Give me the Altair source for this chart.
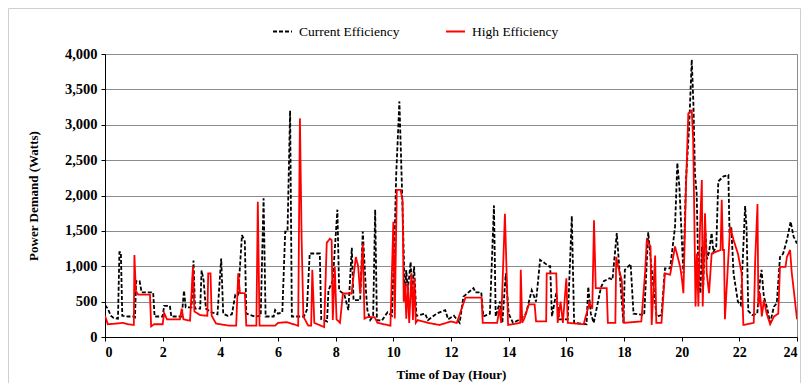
import altair as alt
import pandas as pd

series_names = ["Current Efficiency", "High Efficiency"]
x_ticks = list(range(0, 25, 2))
y_ticks = list(range(0, 4001, 500))

cur_hours = [0.00, 0.10, 0.20, 0.30, 0.45, 0.50, 0.55, 0.60, 0.80, 1.00, 1.04, 1.08, 1.20, 1.27, 1.67, 1.72,
             2.00, 2.05, 2.25, 2.30, 2.66, 2.74, 2.80, 3.00, 3.07, 3.12, 3.30, 3.35, 3.42, 3.50, 3.70, 3.90,
             4.03, 4.10, 4.25, 4.40, 4.52, 4.62, 4.75, 4.85, 4.90, 5.20, 5.40, 5.50, 5.57, 5.85, 5.90, 6.00,
             6.15, 6.25, 6.33, 6.42, 6.48, 6.60, 6.90, 7.00, 7.10, 7.45, 7.50, 7.70, 7.75, 7.90, 8.06, 8.12,
             8.30, 8.44, 8.56, 8.62, 8.85, 8.94, 9.05, 9.10, 9.20, 9.30, 9.37, 9.43, 9.60, 9.80, 9.95, 10.05,
             10.10, 10.21, 10.30, 10.40, 10.45, 10.50, 10.60, 10.65, 10.72, 10.80, 11.10, 11.20, 11.50, 11.80,
             11.90, 12.10, 12.30, 12.43, 12.78, 12.85, 13.05, 13.12, 13.35, 13.49, 13.55, 13.70, 13.78, 13.90,
             14.00, 14.15, 14.40, 14.60, 14.80, 14.95, 15.09, 15.40, 15.44, 15.50, 15.65, 15.75, 16.05, 16.19,
             16.27, 16.70, 16.76, 16.85, 16.95, 17.20, 17.30, 17.50, 17.60, 17.75, 17.85, 17.98, 18.03, 18.23,
             18.33, 18.70, 18.84, 18.95, 19.13, 19.30, 19.42, 19.60, 19.77, 19.85, 19.92, 20.06, 20.15, 20.26,
             20.35, 20.41, 20.46, 20.52, 20.58, 20.65, 20.70, 20.75, 20.81, 20.88, 20.95, 21.04, 21.10, 21.20,
             21.27, 21.45, 21.62, 21.66, 21.72, 21.80, 21.95, 22.05, 22.12, 22.20, 22.25, 22.31, 22.45, 22.62,
             22.72, 22.77, 22.85, 22.95, 23.07, 23.20, 23.30, 23.41, 23.52, 23.65, 23.78, 23.88, 24.00]
cur_watts = [450, 400, 300, 270, 260, 1200, 1200, 300, 290, 290, 280, 790, 790, 630, 630, 290,
             290, 440, 440, 290, 290, 655, 420, 420, 1080, 400, 400, 940, 800, 400, 350, 320,
             1110, 330, 300, 320, 600, 600, 1440, 1350, 330, 290, 300, 1960, 290, 290, 380, 330,
             350, 1490, 1490, 3200, 290, 290, 290, 380, 1180, 1180, 250, 220, 660, 800, 1800, 660,
             600, 380, 1260, 520, 520, 1490, 660, 380, 240, 300, 1800, 240, 230, 350, 300, 1500,
             2300, 3330, 2100, 600, 945, 650, 1060, 600, 1000, 300, 330, 240, 330, 380,
             250, 300, 200, 570, 690, 630, 630, 290, 330, 1860, 290, 500, 200, 900,
             330, 200, 250, 330, 660, 500, 1090, 1000, 1000, 290, 620, 250, 250, 1710,
             200, 180, 710, 330, 200, 700, 790, 830, 810, 1470, 900, 200, 950, 1030,
             330, 310, 1480, 990, 290, 310, 970, 970, 1560, 2460, 2130, 900, 2220, 2980,
             3920, 3260, 2310, 2030, 900, 620, 1280, 730, 1560, 1100, 1200, 1470, 1200, 1280,
             2200, 2270, 2290, 1470, 1560, 900, 500, 450, 1100, 1850, 1560, 370, 310, 330,
             810, 950, 570, 430, 200, 430, 480, 1130, 1180, 1370, 1630, 1420, 1320]

high_hours = [0.00, 0.10, 0.40, 0.60, 0.80, 1.00, 1.02, 1.07, 1.15, 1.56, 1.60, 1.70, 2.00, 2.05, 2.15, 2.60,
              2.66, 2.72, 2.95, 3.05, 3.10, 3.30, 3.55, 3.58, 3.66, 3.70, 3.85, 4.30, 4.55, 4.62, 4.68, 4.85,
              4.90, 5.25, 5.30, 5.36, 5.90, 6.00, 6.30, 6.70, 6.76, 6.82, 6.88, 7.05, 7.15, 7.19, 7.26, 7.60,
              7.69, 7.80, 7.86, 7.90, 7.97, 8.03, 8.15, 8.25, 8.55, 8.70, 8.78, 8.85, 8.94, 9.00, 9.10, 9.35,
              9.45, 9.90, 10.00, 10.05, 10.12, 10.25, 10.32, 10.36, 10.40, 10.45, 10.50, 10.55, 10.63, 10.68,
              10.73, 10.78, 10.85, 11.20, 11.60, 12.00, 12.20, 12.50, 13.06, 13.10, 13.60, 13.68, 13.74, 13.87,
              13.93, 13.98, 14.40, 14.42, 14.47, 14.55, 14.70, 14.90, 14.95, 15.30, 15.32, 15.65, 15.70, 15.80,
              15.88, 16.00, 16.05, 16.60, 16.80, 16.90, 16.96, 17.02, 17.40, 17.44, 17.70, 17.73, 17.80, 17.92,
              18.00, 18.60, 18.73, 18.79, 18.92, 18.96, 19.08, 19.12, 19.30, 19.42, 19.60, 19.77, 19.95, 20.00,
              20.06, 20.15, 20.23, 20.35, 20.40, 20.45, 20.48, 20.53, 20.58, 20.63, 20.70, 20.73, 20.81, 20.87,
              20.95, 21.04, 21.35, 21.39, 21.43, 21.47, 21.50, 21.68, 21.80, 21.95, 22.08, 22.14, 22.50, 22.55,
              22.63, 22.66, 22.72, 22.78, 22.85, 22.95, 23.07, 23.20, 23.35, 23.41, 23.60, 23.65, 23.76, 23.82,
              23.90, 24.00]
high_watts = [300, 180, 190, 200, 180, 170, 1160, 650, 600, 600, 150, 180, 180, 340, 250, 250,
              400, 250, 230, 1000, 360, 310, 300, 900, 900, 300, 190, 160, 160, 900, 620, 620,
              160, 160, 1910, 160, 160, 200, 210, 160, 3090, 1370, 290, 160, 160, 950, 200, 140,
              1330, 1390, 1370, 240, 990, 250, 200, 615, 615, 1130, 1000, 615, 1320, 260, 280, 280,
              200, 160, 1630, 260, 2080, 2080, 1930, 500, 760, 260, 760, 200, 900, 240,
              830, 200, 240, 200, 170, 220, 200, 556, 556, 200, 200, 400, 200, 1740,
              900, 170, 200, 950, 200, 270, 460, 460, 220, 220, 900, 900, 200, 500,
              200, 830, 200, 180, 480, 400, 1650, 690, 690, 200, 200, 1130, 990, 810,
              200, 220, 900, 1370, 1280, 170, 1150, 200, 200, 900, 880, 1280, 990, 850,
              620, 2120, 3160, 3200, 2780, 1370, 430, 1180, 430, 1470, 2220, 430, 1750, 900,
              620, 1180, 1230, 1940, 1230, 1230, 250, 1560, 1370, 1180, 900, 170, 200, 1090,
              1880, 430, 620, 290, 520, 330, 180, 290, 330, 990, 990, 1130, 1230, 900,
              620, 250]

df = pd.concat([
    pd.DataFrame({"hour": cur_hours, "watts": cur_watts, "series": series_names[0]}),
    pd.DataFrame({"hour": high_hours, "watts": high_watts, "series": series_names[1]}),
], ignore_index=True)

SERIF = "Liberation Serif"

legend = alt.Legend(
    title=None, orient="none", legendX=167, legendY=-33, direction="horizontal",
    symbolType="stroke", symbolSize=360, symbolStrokeWidth=2, labelFont=SERIF,
    labelFontSize=13.5, labelColor="#000000", labelOffset=6, columnPadding=42, padding=0,
)

lines = alt.Chart(df).mark_line(strokeWidth=1.8, clip=True).encode(
    x=alt.X("hour:Q", scale=alt.Scale(domain=[0, 24], nice=False),
            axis=alt.Axis(values=x_ticks, grid=False, title="Time of Day (Hour)",
                          titleFont=SERIF, titleFontSize=13, titleFontWeight="bold",
                          titleY=37, titleBaseline="middle",
                          labelFont=SERIF, labelFontSize=14, labelFontWeight="bold",
                          labelColor="#000000", labelPadding=4, tickSize=4,
                          tickColor="#000000", domainColor="#000000")),
    y=alt.Y("watts:Q", scale=alt.Scale(domain=[0, 4000], nice=False),
            axis=alt.Axis(values=y_ticks, format=",.0f", title="Power Demand (Watts)",
                          titleFont=SERIF, titleFontSize=13, titleFontWeight="bold",
                          titleX=-72, titleY=141.5, titleAlign="center", titleBaseline="middle",
                          labelFont=SERIF, labelFontSize=14.5, labelFontWeight="bold",
                          labelColor="#000000", labelPadding=4, tickSize=4,
                          tickColor="#000000", domainColor="#000000",
                          gridColor="#8c8c8c", gridWidth=1)),
    color=alt.Color("series:N", scale=alt.Scale(domain=series_names, range=["#000000", "#ff0000"]),
                    legend=legend),
    strokeDash=alt.StrokeDash("series:N", scale=alt.Scale(domain=series_names, range=[[4, 2], [1, 0]]),
                              legend=legend),
)

frame = alt.Chart(pd.DataFrame({"a": [0]})).mark_rect(
    fillOpacity=0, stroke="#cfcfcf", strokeWidth=1, clip=False
).encode(x=alt.value(-96.5), x2=alt.value(695.5), y=alt.value(-45.5), y2=alt.value(345))

chart = alt.layer(frame, lines).properties(
    width=692, height=283,
    autosize=alt.AutoSizeParams(type="none"),
    padding={"left": 97, "top": 46, "right": 4, "bottom": 48},
).configure_view(stroke="#8c8c8c", strokeWidth=1)

chart.save("out.html", embed_options={"renderer": "svg", "actions": False})
